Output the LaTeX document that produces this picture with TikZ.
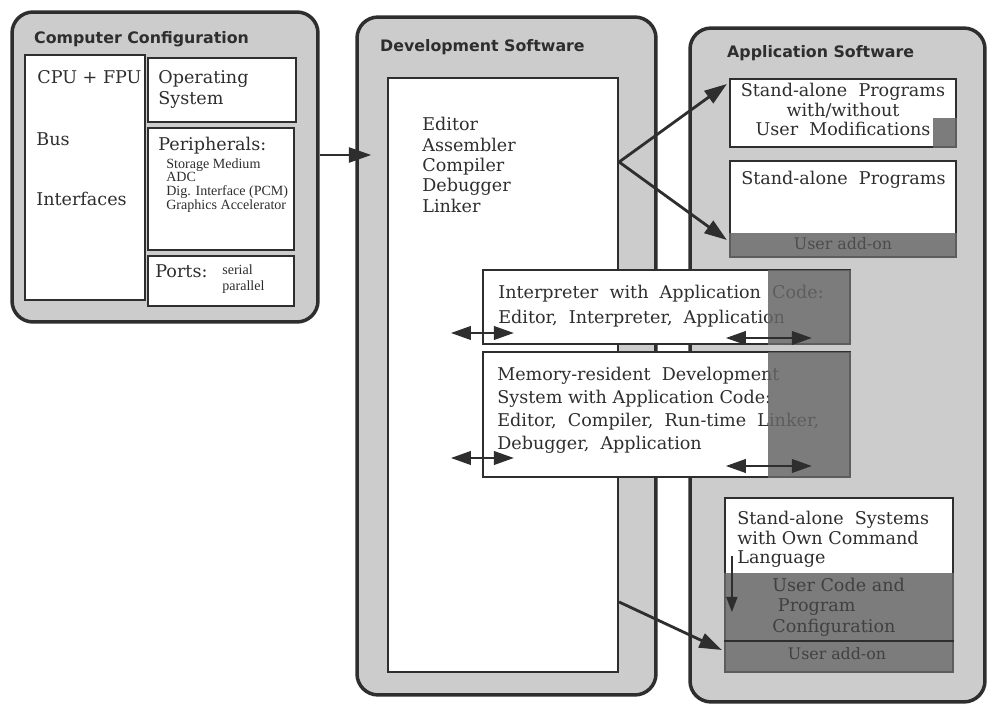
\documentclass[tikz,border=0pt]{standalone}
\usepackage{fontspec}
\setmainfont{DejaVu Serif}
\setsansfont{DejaVu Sans}
\newfontfamily\smallserif{Liberation Serif}
\usetikzlibrary{arrows.meta,positioning}
\definecolor{panel-grey}{gray}{0.80}
\definecolor{dark-grey}{gray}{0.40}
\definecolor{ink}{gray}{0.18}

\begin{document}
\begin{tikzpicture}[x=0.02cm, y=-0.02cm,
        panel/.style={draw=ink, line width=2pt, fill=panel-grey,
                      rounded corners=0.42cm},
        paper/.style={draw=ink, line width=1.3pt, fill=white},
        title/.style={font=\sffamily\bfseries\small, anchor=west, text=ink},
        lbl/.style={anchor=north west, align=left, inner sep=0pt, text=ink},
        tiny/.style={lbl, font=\smallserif\fontsize{8pt}{7.8pt}\selectfont,
                     execute at begin node=\setlength{\baselineskip}{7.8pt}},
        shade/.style={fill=dark-grey, opacity=0.85},
        flow/.style={-{Triangle[length=0.45cm,width=0.3cm]}, line width=1.6pt, draw=ink},
        swap/.style={{Triangle[length=0.4cm,width=0.27cm]}-{Triangle[length=0.4cm,width=0.27cm]},
                     line width=1.3pt, draw=ink}]
      \useasboundingbox (0,0) rectangle (992,706);
      % three panels
      \node[panel, minimum width=6.12cm, minimum height=6.2cm] (CompCfg) at (165,167) {};
      \node[panel, minimum width=5.98cm, minimum height=13.56cm] (DevSw) at (506.5,356) {};
      \node[panel, minimum width=5.9cm, minimum height=13.48cm] (AppSw) at (837.5,365) {};
      \node[title] at (28,39) {Computer Configuration};
      \node[title] at (374,47) {Development Software};
      \node[title] at (721,53) {Application Software};

      % computer configuration
      \node[paper, minimum width=2.4cm, minimum height=4.9cm] (CPU) at (85,177.5) {};
      \node[paper, minimum width=2.96cm, minimum height=1.28cm] (OS) at (222,90) {};
      \node[paper, minimum width=2.92cm, minimum height=2.44cm] (Periph) at (221,189) {};
      \node[paper, minimum width=2.92cm, minimum height=1.0cm] (Ports) at (221,281) {};
      \node[lbl] at (37,70) {CPU + FPU};
      \node[lbl] at (36,132) {Bus};
      \node[lbl] at (36,192) {Interfaces};
      \node[lbl] at (158,70) {Operating\\System};
      \node[lbl] at (158,137) {Peripherals:};
      \node[tiny] at (166,158) {Storage Medium\\ADC\\Dig. Interface (PCM)\\Graphics Accelerator};
      \node[lbl] at (155,264) {Ports:};
      \node[tiny, execute at begin node=\setlength{\baselineskip}{9.6pt}]
            at (222,264) {serial\\parallel};

      % development software
      \node[paper, minimum width=4.6cm, minimum height=11.88cm] (DevTools) at (503,375) {};
      \node[lbl, execute at begin node=\setlength{\baselineskip}{11.6pt}]
            at (422,117) {Editor\\Assembler\\Compiler\\Debugger\\Linker};

      % application software
      \node[paper, minimum width=4.52cm, minimum height=1.36cm] (SAProg) at (843,113) {};
      \fill[shade] (933,118) rectangle (SAProg.south east);
      \node[anchor=north, align=center, inner sep=0pt, text=ink,
            execute at begin node=\setlength{\baselineskip}{11pt}]
            at (843,83) {Stand-alone~~Programs\\with/without\\User~~Modifications};
      \node[paper, minimum width=4.52cm, minimum height=1.92cm] (SAAddon) at (843,209) {};
      \fill[shade] (SAAddon.south west) rectangle ([yshift=0.5cm]SAAddon.south east);
      \node[lbl] at (741,171) {Stand-alone~~Programs};
      \node[text=black!70, font=\small] at (843,244) {User add-on};

      \node[paper, minimum width=4.56cm, minimum height=3.48cm] (SASys) at (839,585) {};
      \fill[shade] ([yshift=2.0cm]SASys.south west) rectangle (SASys.south east);
      \draw[ink, line width=1pt] ([yshift=0.64cm]SASys.south west) -- ([yshift=0.64cm]SASys.south east);
      \node[lbl, execute at begin node=\setlength{\baselineskip}{11pt}]
            at (737,511) {Stand-alone~~Systems\\with Own Command\\Language};
      \node[lbl, text=black!75, execute at begin node=\setlength{\baselineskip}{11.5pt}]
            at (772,578) {User Code and\\~Program\\Configuration};
      \node[text=black!75, font=\small] at (837,654) {User add-on};
      \draw[-{Triangle[length=0.3cm,width=0.22cm]}, line width=1pt, draw=ink]
            (SASys.west |- 0,556) ++(0.16cm,0) -- ++(0,-1.12cm);

      % code boxes spanning both panels
      \node[paper, minimum width=7.34cm, minimum height=1.48cm] (Interp) at (666.5,307) {};
      \node[lbl, execute at begin node=\setlength{\baselineskip}{14pt}]
            at (498,285) {Interpreter~~with~~Application~~Code:\\Editor,~~Interpreter,~~Application};
      \fill[shade] (768,270) rectangle (Interp.south east);
      \node[paper, minimum width=7.34cm, minimum height=2.5cm] (MemRes) at (666.5,414.5) {};
      \node[lbl, execute at begin node=\setlength{\baselineskip}{13pt}]
            at (497,367) {Memory-resident~~Development\\System with Application Code:\\Editor,~~Compiler,~~Run-time~~Linker,\\Debugger,~~Application};
      \fill[shade] (768,352) rectangle (MemRes.south east);
      \draw[swap] ([xshift=-0.62cm]Interp.west |- 0,333) -- ([xshift=0.64cm]Interp.west |- 0,333);
      \draw[swap] ([xshift=4.88cm]Interp.west |- 0,338) -- ([xshift=6.6cm]Interp.west |- 0,338);
      \draw[swap] ([xshift=-0.62cm]MemRes.west |- 0,458) -- ([xshift=0.64cm]MemRes.west |- 0,458);
      \draw[swap] ([xshift=4.88cm]MemRes.west |- 0,466) -- ([xshift=6.6cm]MemRes.west |- 0,466);

      % flows between panels
      \draw[flow] (CompCfg.east |- 0,155) -- ([xshift=0.32cm]DevSw.west |- 0,155);
      \draw[flow] (DevTools.east |- 0,162) -- ([xshift=-0.04cm]SAProg.west |- 0,84);
      \draw[flow] (DevTools.east |- 0,162) -- ([xshift=-0.04cm]SAAddon.west |- 0,240);
      \draw[flow] (DevTools.east |- 0,602) -- ([xshift=-0.04cm]SASys.west |- 0,650);
    \end{tikzpicture}
\end{document}
